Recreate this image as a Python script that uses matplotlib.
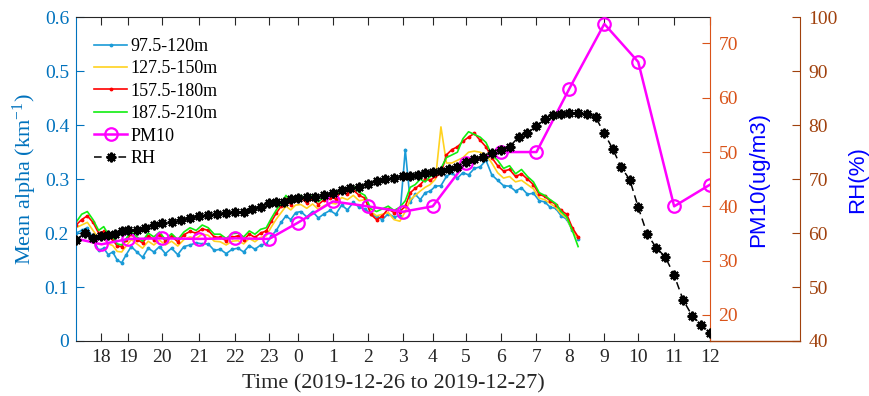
import numpy as np
import matplotlib.pyplot as plt
from matplotlib.ticker import FuncFormatter

plt.rcParams['font.family'] = 'Liberation Serif'
plt.rcParams['mathtext.fontset'] = 'custom'
plt.rcParams['mathtext.rm'] = 'Liberation Serif'
plt.rcParams['mathtext.it'] = 'Liberation Serif:italic'

# hours since 2019-12-26 00:00 and the sample index reached at each hour
hours = [17, 18, 19, 20, 21, 22, 23, 24, 25, 26, 27, 28, 29, 30, 31, 32, 33, 34, 35, 36, 37]
hour_index = [0, 34, 61, 95, 132, 168, 202, 231, 266, 301, 336, 366, 399, 434, 470, 503, 538, 572, 608, 644, 680]
tick_hours = [18, 19, 20, 21, 22, 23, 24, 25, 26, 27, 28, 29, 30, 31, 32, 33, 34, 35, 36]
tick_labels = ['18', '19', '20', '21', '22', '23', '0', '1', '2', '3', '4', '5', '6', '7', '8', '9', '10', '11', '12']

# mean extinction (km-1), every 10 min from 17:15
alpha_start, alpha_end = 17.25, 32.25
alpha_975 = [0.200, 0.205, 0.210, 0.190, 0.168, 0.172, 0.160, 0.165, 0.150, 0.145,
             0.160, 0.175, 0.165, 0.155, 0.172, 0.165, 0.175, 0.162, 0.172, 0.160,
             0.175, 0.178, 0.182, 0.180, 0.180, 0.168, 0.170, 0.162, 0.170, 0.172,
             0.165, 0.177, 0.170, 0.178, 0.180, 0.195, 0.205, 0.220, 0.232, 0.225,
             0.238, 0.240, 0.230, 0.240, 0.228, 0.236, 0.242, 0.235, 0.252, 0.243,
             0.257, 0.248, 0.245, 0.235, 0.230, 0.225, 0.236, 0.230, 0.232, 0.355,
             0.258, 0.272, 0.262, 0.275, 0.278, 0.287, 0.288, 0.305, 0.312, 0.302,
             0.312, 0.308, 0.320, 0.323, 0.335, 0.308, 0.298, 0.288, 0.287, 0.278,
             0.284, 0.272, 0.274, 0.260, 0.258, 0.248, 0.246, 0.232, 0.226, 0.205,
             0.190]
alpha_1275 = [0.210, 0.215, 0.220, 0.205, 0.190, 0.190, 0.180, 0.177, 0.166, 0.165,
              0.176, 0.188, 0.180, 0.172, 0.185, 0.178, 0.187, 0.178, 0.185, 0.176,
              0.188, 0.193, 0.190, 0.198, 0.196, 0.185, 0.184, 0.178, 0.185, 0.186,
              0.180, 0.190, 0.184, 0.192, 0.195, 0.212, 0.226, 0.238, 0.250, 0.243,
              0.252, 0.253, 0.246, 0.254, 0.244, 0.251, 0.256, 0.254, 0.266, 0.262,
              0.270, 0.260, 0.262, 0.240, 0.232, 0.235, 0.238, 0.225, 0.222, 0.240,
              0.262, 0.270, 0.278, 0.285, 0.290, 0.300, 0.397, 0.330, 0.330, 0.335,
              0.340, 0.350, 0.352, 0.350, 0.345, 0.330, 0.312, 0.302, 0.305, 0.295,
              0.298, 0.290, 0.282, 0.265, 0.262, 0.255, 0.248, 0.236, 0.228, 0.205,
              0.190]
alpha_1575 = [0.215, 0.225, 0.232, 0.220, 0.200, 0.203, 0.192, 0.188, 0.176, 0.175,
              0.187, 0.198, 0.188, 0.182, 0.195, 0.188, 0.197, 0.186, 0.194, 0.184,
              0.197, 0.203, 0.200, 0.208, 0.205, 0.193, 0.192, 0.186, 0.192, 0.195,
              0.188, 0.198, 0.192, 0.200, 0.204, 0.222, 0.237, 0.250, 0.264, 0.253,
              0.262, 0.265, 0.256, 0.264, 0.253, 0.262, 0.266, 0.264, 0.278, 0.273,
              0.280, 0.270, 0.265, 0.235, 0.225, 0.232, 0.245, 0.238, 0.240, 0.250,
              0.275, 0.283, 0.290, 0.300, 0.298, 0.305, 0.310, 0.345, 0.355, 0.360,
              0.370, 0.378, 0.385, 0.372, 0.360, 0.340, 0.325, 0.315, 0.318, 0.305,
              0.310, 0.300, 0.290, 0.272, 0.268, 0.260, 0.253, 0.242, 0.235, 0.210,
              0.193]
alpha_1875 = [0.220, 0.235, 0.240, 0.225, 0.205, 0.212, 0.198, 0.193, 0.180, 0.178,
              0.190, 0.203, 0.193, 0.185, 0.200, 0.193, 0.202, 0.188, 0.199, 0.188,
              0.202, 0.210, 0.205, 0.215, 0.210, 0.198, 0.198, 0.190, 0.199, 0.200,
              0.193, 0.204, 0.198, 0.207, 0.210, 0.228, 0.243, 0.255, 0.270, 0.258,
              0.267, 0.270, 0.260, 0.270, 0.258, 0.267, 0.270, 0.270, 0.285, 0.278,
              0.287, 0.276, 0.270, 0.245, 0.240, 0.245, 0.250, 0.242, 0.248, 0.260,
              0.285, 0.290, 0.300, 0.295, 0.305, 0.310, 0.320, 0.340, 0.345, 0.350,
              0.375, 0.388, 0.383, 0.378, 0.368, 0.345, 0.335, 0.320, 0.325, 0.310,
              0.318, 0.305, 0.295, 0.275, 0.270, 0.262, 0.255, 0.240, 0.230, 0.205,
              0.175]

# hourly PM10 (ug/m3), 17:00 to 12:00
pm10_hours = [17, 18, 19, 20, 21, 22, 23, 24, 25, 26, 27, 28, 29, 30, 31, 32, 33, 34, 35, 36]
pm10 = [34.4, 33.0, 34.0, 34.1, 34.0, 34.1, 34.0, 37.0, 40.9, 40.0,
        39.0, 40.0, 48.0, 50.0, 50.0, 61.7, 73.6, 66.6, 40.0, 44.0]

# RH (%), every 15 min from 17:15 to 12:00
rh_start, rh_end = 17.25, 36.0
rh = [58.7, 60.0, 59.1, 59.4, 59.7, 59.9, 60.3, 60.5, 60.6, 60.9,
      61.5, 61.8, 62.0, 62.4, 62.8, 63.2, 63.3, 63.6, 63.8, 64.0,
      63.9, 64.4, 64.9, 65.5, 65.8, 65.8, 66.3, 66.6, 66.7, 66.7,
      67.1, 67.4, 68.0, 68.4, 68.5, 69.1, 69.6, 70.0, 70.2, 70.5,
      70.5, 70.8, 71.1, 71.3, 71.5, 71.9, 72.3, 73.2, 73.7, 74.1,
      74.8, 75.4, 76.0, 77.8, 78.6, 79.8, 81.1, 81.9, 82.1, 82.2,
      82.2, 82.1, 81.5, 78.5, 75.6, 72.2, 69.9, 64.8, 59.8, 57.3,
      55.6, 52.2, 47.6, 44.7, 43.0, 41.5]

alpha_t = np.linspace(alpha_start, alpha_end, len(alpha_975))
rh_t = np.linspace(rh_start, rh_end, len(rh))

C_LEFT = '#0072BD'
C_PM = '#D95319'
C_RH = '#A0410D'
C_TXT = '#262626'


def to_index(t):
    return np.interp(t, hours, hour_index)


def to_hour(i):
    return np.interp(i, hour_index, hours)


fig = plt.figure(figsize=(8.69, 3.96), dpi=100)
ax = fig.add_axes([0.0875, 0.139, 0.7296, 0.817])
ax.set_xscale('function', functions=(to_index, to_hour))

l1, = ax.plot(alpha_t, alpha_975, '.-', color='#1a9bd7', lw=1.2, ms=3.5, label='97.5-120m')
l2, = ax.plot(alpha_t, alpha_1275, '-', color='#ffd21f', lw=1.2, label='127.5-150m')
l3, = ax.plot(alpha_t, alpha_1575, '.-', color='#ff0000', lw=1.2, ms=3.5, label='157.5-180m')
l4, = ax.plot(alpha_t, alpha_1875, '-', color='#11ee11', lw=1.2, label='187.5-210m')
ax.set_xlim(17.25, 36)
ax.set_ylim(0, 0.6)
ax.set_yticks([0, 0.1, 0.2, 0.3, 0.4, 0.5, 0.6])
ax.yaxis.set_major_formatter(FuncFormatter(lambda v, p: '{:g}'.format(v)))
ax.set_xticks(tick_hours)
ax.set_xticklabels(tick_labels)
ax.minorticks_off()
ax.tick_params(axis='x', direction='in', top=True, length=5.5, width=0.8, colors=C_TXT, labelsize=14, pad=6)
ax.tick_params(axis='y', direction='in', length=5.5, width=0.8, colors=C_LEFT, labelsize=14, pad=5)
ax.set_xlabel('Time (2019-12-26 to 2019-12-27)', fontsize=16, color=C_TXT, labelpad=6)
ax.set_ylabel('Mean alpha (km$^{-1}$)', fontsize=16, color=C_LEFT, labelpad=4)
ax.spines['left'].set_color(C_LEFT)
ax.spines['right'].set_visible(False)
ax.spines['top'].set_color(C_TXT)
ax.spines['bottom'].set_color(C_TXT)

ax2 = ax.twinx()
l5, = ax2.plot(pm10_hours, pm10, '-o', color='#ff00ff', lw=1.8, ms=9, mfc='none', mew=1.6, label='PM10')
ax2.set_ylim(15.2, 74.8)
ax2.set_yticks([20, 30, 40, 50, 60, 70])
ax2.tick_params(axis='y', direction='in', length=5.5, width=0.8, colors=C_PM, labelsize=14, pad=6)
ax2.set_ylabel('PM10(ug/m3)', family='Liberation Sans', fontsize=16, color='#0000ff', labelpad=7)
for s in ['left', 'top', 'bottom']:
    ax2.spines[s].set_visible(False)
ax2.spines['right'].set_color(C_PM)

ax3 = ax.twinx()
l6, = ax3.plot(rh_t, rh, '--', color='black', lw=1.1, marker=(8, 2, 0), ms=7, mew=1.5, dashes=(5, 3), label='RH')
ax3.set_ylim(40, 100)
ax3.set_yticks([40, 50, 60, 70, 80, 90, 100])
ax3.spines['right'].set_position(('axes', 1.142))
for s in ['left', 'top', 'bottom']:
    ax3.spines[s].set_visible(False)
ax3.spines['right'].set_color(C_RH)
ax3.tick_params(axis='y', direction='in', length=5.5, width=0.8, colors=C_RH, labelsize=14, pad=6)
ax3.set_ylabel('RH(%)', family='Liberation Sans', fontsize=16, color='#0000ff', labelpad=7)
ax3.plot([1.0, 1.142], [0, 0], transform=ax3.transAxes, color=C_RH, lw=1.0, clip_on=False)

handles = [l1, l2, l3, l4, l5, l6]
ax3.legend(handles, [h.get_label() for h in handles], loc='upper left', bbox_to_anchor=(0.012, 0.97),
           frameon=False, fontsize=13, numpoints=1, handlelength=1.8, handletextpad=0.2,
           labelspacing=0.3, borderaxespad=0.2)

fig.savefig('out.png', dpi=100)
